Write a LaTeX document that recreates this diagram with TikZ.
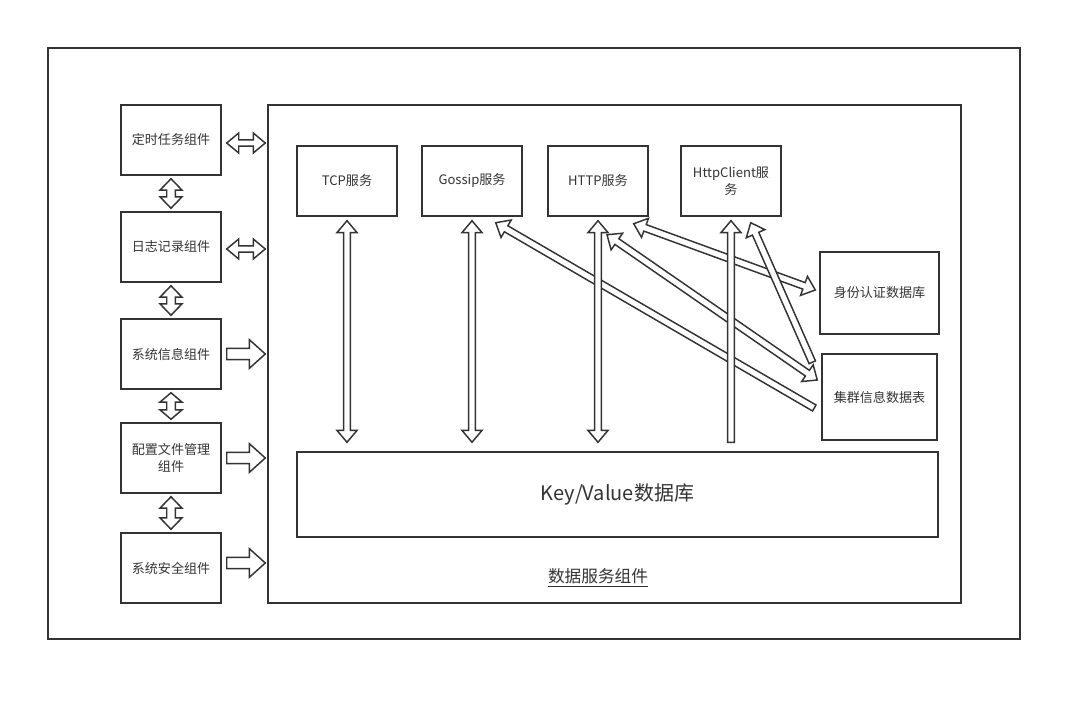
\documentclass[tikz,border=0pt]{standalone}
\usepackage{fontspec}
\usepackage{xcolor}
\usepackage{tikz}
\usetikzlibrary{calc}
\newfontfamily\cjk{Noto Sans CJK SC}
\definecolor{lc}{HTML}{333333}

% hollow block arrow, one head: tail, head, half shaft, half head, head length
\newcommand{\sarrow}[5]{%
  \coordinate (at) at (#1);
  \coordinate (ah) at (#2);
  \coordinate (an) at ($(ah)!#5!(at)$);
  \draw[blk] ($(at)!#3!90:(ah)$) -- ($(an)!#3!90:(ah)$) -- ($(an)!#4!90:(ah)$) -- (ah)
    -- ($(an)!#4!-90:(ah)$) -- ($(an)!#3!-90:(ah)$) -- ($(at)!#3!-90:(ah)$) -- cycle;
}
% hollow block arrow, two heads
\newcommand{\darrow}[5]{%
  \coordinate (at) at (#1);
  \coordinate (ah) at (#2);
  \coordinate (an) at ($(ah)!#5!(at)$);
  \coordinate (am) at ($(at)!#5!(ah)$);
  \draw[blk] (at) -- ($(am)!#4!90:(ah)$) -- ($(am)!#3!90:(ah)$) -- ($(an)!#3!90:(ah)$)
    -- ($(an)!#4!90:(ah)$) -- (ah) -- ($(an)!#4!-90:(ah)$) -- ($(an)!#3!-90:(ah)$)
    -- ($(am)!#3!-90:(ah)$) -- ($(am)!#4!-90:(ah)$) -- cycle;
}

\begin{document}
\begin{tikzpicture}[x=0.75pt, y=-0.75pt,
    box/.style={draw=lc, line width=1.1pt, text=lc, align=center,
      minimum width=75pt, minimum height=52.5pt,
      font=\cjk\fontsize{9.8pt}{12.5pt}\selectfont},
    blk/.style={draw=lc, fill=white, line width=1.1pt, line join=miter}]
    % Parameters
    \def\sw{2.6pt}  % half shaft, thin arrows
    \def\hw{7.6pt}  % half head, thin arrows
    \def\hl{9pt}    % head length, thin arrows
    \def\bsw{4.2pt} % half shaft, big arrows
    \def\bhw{10.8pt}% half head, big arrows
    \def\bhl{12pt}  % head length, big arrows

    \useasboundingbox (0,0) rectangle (1082,702);

    % Draw outer frame
    \draw[lc, line width=1.1pt] (48,48) rectangle (1020,639);

    % Draw data service component
    \node[box, minimum width=519.75pt, minimum height=373.5pt] (main) at (614.5,354) {};
    \node[text=lc, font=\cjk\fontsize{12.5pt}{15pt}\selectfont] (title) at (598,578) {\underline{数据服务组件}};

    % Left column components
    \node[box] (timer) at (171,140) {定时任务组件};
    \node[box] (log) at (171,247) {日志记录组件};
    \node[box] (sysinfo) at (171,354) {系统信息组件};
    \node[box] (config) at (171,458) {配置文件管理\\组件};
    \node[box] (security) at (171,568) {系统安全组件};

    % Services
    \node[box] (tcp) at (347,181) {TCP服务};
    \node[box] (gossip) at (472,181) {Gossip服务};
    \node[box] (http) at (598,181) {HTTP服务};
    \node[box] (client) at (731,181) {HttpClient服\\务};

    % Tables
    \node[box, minimum width=89.25pt, minimum height=61.5pt] (auth) at (879.5,293) {身份认证数据库};
    \node[box, minimum width=86.25pt, minimum height=64.5pt] (cluster) at (879.5,397) {集群信息数据表};
    \node[box, minimum width=480.75pt, minimum height=63.75pt,
      font=\cjk\fontsize{15pt}{18pt}\selectfont] (kv) at (617.5,494.5) {Key/Value数据库};

    % Left arrows
    \darrow{$(timer.east)+(5,3)$}{$(timer.east -| main.west)+(-2,3)$}{2.3pt}{7.5pt}{9pt}
    \darrow{$(log.east)+(5,2)$}{$(log.east -| main.west)+(-2,2)$}{2.3pt}{7.5pt}{9pt}
    \sarrow{$(sysinfo.east)+(5,0)$}{$(sysinfo.east -| main.west)+(-2,0)$}{\bsw}{\bhw}{\bhl}
    \sarrow{$(config.east)+(5,0)$}{$(config.east -| main.west)+(-2,0)$}{\bsw}{\bhw}{\bhl}
    \sarrow{$(security.east)+(5,-5)$}{$(security.east -| main.west)+(-2,-5)$}{\bsw}{\bhw}{\bhl}
    \foreach \a/\b/\l in {timer/log/8.5pt, log/sysinfo/8.5pt, sysinfo/config/7pt, config/security/8.5pt}
      \darrow{$(\a.south)+(0,3)$}{$(\b.north)+(0,-3)$}{3.2pt}{8.2pt}{\l};

    % Diagonal arrows to the tables
    \sarrow{$(cluster.west)+(-7,11)$}{$(gossip.south east)+(-27,6)$}{\sw}{\hw}{\hl}
    \darrow{$(http.south)+(9,18)$}{$(cluster.west)+(-4,-17)$}{\sw}{\hw}{\hl}
    \darrow{$(http.south east)+(-15,7)$}{$(auth.west)+(-4,-3)$}{\sw}{\hw}{\hl}
    \sarrow{$(cluster.north west)+(-9,9)$}{$(client.south east)+(-31,6)$}{\sw}{\hw}{\hl}

    % Vertical arrows to the key/value store
    \foreach \s in {tcp, gossip, http}
      \darrow{$(\s.south)+(0,4)$}{$(\s.south |- kv.north)+(0,-9)$}{\sw}{\hw}{\hl};
    \sarrow{$(client.south |- kv.north)+(0,-9)$}{$(client.south)+(0,4)$}{\sw}{\hw}{\hl}

\end{tikzpicture}
\end{document}
